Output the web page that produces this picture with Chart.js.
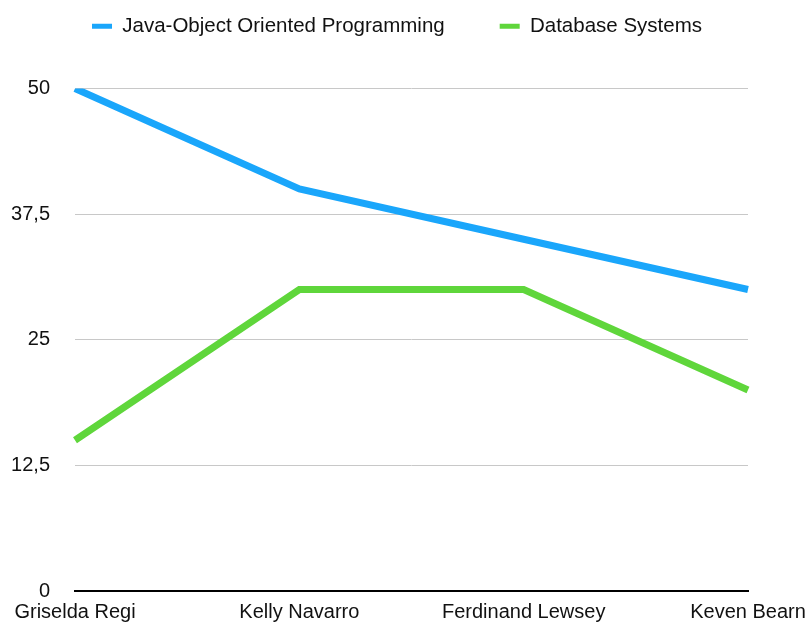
<!DOCTYPE html>
<html>
<head>
<meta charset="utf-8">
<script src="https://cdn.jsdelivr.net/npm/chart.js@4"></script>
<style>
  html, body { margin: 0; padding: 0; background: #fff; }
  canvas { display: block; }
</style>
</head>
<body>
<canvas id="lineChart" width="811" height="628"></canvas>
<script>
// Chart data
const students = ['Griselda Regi', 'Kelly Navarro', 'Ferdinand Lewsey', 'Keven Bearn'];
const javaScores = [50, 40, 35, 30];
const dbScores = [15, 30, 30, 20];
const yTicks = [0, 12.5, 25, 37.5, 50];

const blue = '#1aa6fb';
const green = '#5fd63b';
const fontFamily = 'Liberation Sans, Arial, sans-serif';

// nudge the legend: a bit to the right and leave more room under it
const legendTweak = {
    id: 'legendTweak',
    beforeUpdate: function(chart) {
        const lg = chart.legend;
        if (lg && !lg._tweaked) {
            const fit = lg.fit;
            lg.fit = function() {
                fit.call(this);
                if (this.isHorizontal()) this.height += 42;
            };
            lg._tweaked = true;
        }
    },
    afterLayout: function(chart) {
        chart.legend.left += 23;
        chart.legend.right += 23;
    }
};

document.addEventListener('DOMContentLoaded', function() {
    const ctx = document.getElementById('lineChart').getContext('2d');

    new Chart(ctx, {
        type: 'line',
        data: {
            labels: students,
            datasets: [
                {
                    label: 'Java-Object Oriented Programming',
                    data: javaScores,
                    borderColor: blue,
                    backgroundColor: blue,
                    borderWidth: 7,
                    pointRadius: 0,
                    tension: 0
                },
                {
                    label: 'Database Systems',
                    data: dbScores,
                    borderColor: green,
                    backgroundColor: green,
                    borderWidth: 7,
                    pointRadius: 0,
                    tension: 0
                }
            ]
        },
        plugins: [legendTweak],
        options: {
            responsive: false,
            animation: false,
            layout: {
                padding: { left: 0, right: 63, top: -39, bottom: 0 }
            },
            plugins: {
                legend: {
                    labels: {
                        boxWidth: 20,
                        boxHeight: 5,
                        padding: 55,
                        color: '#111',
                        font: { family: fontFamily, size: 20.5 },
                        // flat swatches, no outline
                        generateLabels: function(chart) {
                            const items = Chart.defaults.plugins.legend.labels.generateLabels(chart);
                            items.forEach(it => { it.lineWidth = 0; });
                            return items;
                        }
                    }
                },
                tooltip: { enabled: false }
            },
            scales: {
                x: {
                    offset: false,
                    afterFit: function(scale) { scale.height = 34; },
                    grid: { display: false },
                    border: { display: true, color: '#000', width: 2 },
                    ticks: {
                        color: '#111',
                        padding: 1,
                        maxRotation: 0,
                        font: { family: fontFamily, size: 20 }
                    }
                },
                y: {
                    min: 0,
                    max: 50,
                    afterFit: function(scale) { scale.width = 75; },
                    afterBuildTicks: function(scale) {
                        scale.ticks = yTicks.map(v => ({ value: v }));
                    },
                    grid: { color: '#c8c8c8', lineWidth: 1, drawTicks: false },
                    border: { display: false },
                    ticks: {
                        color: '#111',
                        padding: 25,
                        font: { family: fontFamily, size: 20 },
                        callback: function(v) { return String(v).replace('.', ','); }
                    }
                }
            }
        }
    });
});
</script>
</body>
</html>
